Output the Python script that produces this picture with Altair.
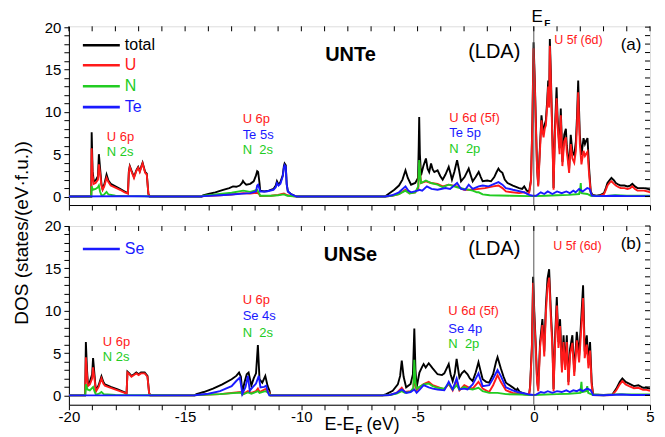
import altair as alt
import pandas as pd

FONT = "Liberation Sans"
C_TOTAL = "#000000"
C_U = "#ff1a1a"
C_N = "#22cc22"
C_X = "#1a1aff"

# ---------------- UNTe (panel a) : (E - EF [eV], DOS) ----------------
te_total = [(-20, 0), (-19.04, 0), (-19.02, 7.6), (-18.98, 3.0), (-18.93, 1.8), (-18.85, 1.9), (-18.75, 2.4),
            (-18.71, 5.0), (-18.66, 3.4), (-18.6, 1.5), (-18.55, 0.9), (-18.48, 1.4), (-18.38, 2.6), (-18.3, 1.9),
            (-18.2, 1.5), (-18.0, 1.2), (-17.8, 0.9), (-17.6, 0.6), (-17.46, 0.4), (-17.42, 3.0), (-17.38, 3.6),
            (-17.3, 3.0), (-17.2, 2.3), (-17.1, 3.1), (-17.02, 3.5), (-16.95, 3.0), (-16.88, 3.6), (-16.83, 4.0),
            (-16.77, 3.4), (-16.72, 2.9), (-16.65, 2.7), (-16.58, 0.3), (-16.52, 0),
            (-14.3, 0), (-14.23, 0.15), (-14.0, 0.3), (-13.7, 0.5), (-13.4, 0.75), (-13.1, 1.0), (-12.94, 1.2),
            (-12.8, 1.15), (-12.65, 1.3), (-12.55, 1.6), (-12.51, 1.85), (-12.45, 1.6), (-12.37, 1.4), (-12.2, 1.5),
            (-12.05, 1.8), (-11.95, 2.5), (-11.9, 3.0), (-11.86, 2.9), (-11.8, 1.6), (-11.77, 0.7), (-11.6, 0.6),
            (-11.4, 0.7), (-11.2, 0.9), (-11.1, 1.3), (-11.05, 1.8), (-10.98, 1.4), (-10.9, 1.7), (-10.8, 2.5),
            (-10.75, 3.6), (-10.72, 3.9), (-10.67, 3.7), (-10.63, 1.5), (-10.58, 0.6), (-10.45, 0.3), (-10.3, 0.1),
            (-10.2, 0),
            (-6.4, 0), (-6.21, 0.4), (-6.0, 0.8), (-5.8, 1.3), (-5.65, 2.0), (-5.52, 3.1), (-5.42, 2.2), (-5.28, 1.4),
            (-5.1, 1.6), (-4.98, 2.2), (-4.95, 6.0), (-4.93, 9.4), (-4.9, 5.0), (-4.85, 2.5), (-4.75, 3.6),
            (-4.64, 4.5), (-4.57, 3.3), (-4.5, 2.9), (-4.42, 3.9), (-4.35, 3.2), (-4.28, 2.9), (-4.14, 3.1),
            (-4.02, 2.4), (-3.92, 2.0), (-3.8, 2.6), (-3.66, 3.5), (-3.58, 2.7), (-3.52, 2.0), (-3.42, 2.9),
            (-3.30, 4.3), (-3.22, 3.2), (-3.13, 1.8), (-2.98, 2.3), (-2.80, 3.3), (-2.7, 2.4), (-2.63, 1.8),
            (-2.5, 2.3), (-2.37, 2.9), (-2.28, 2.3), (-2.2, 1.8), (-2.0, 1.9), (-1.84, 1.8), (-1.7, 2.3), (-1.6, 2.9),
            (-1.52, 3.3), (-1.45, 3.0), (-1.35, 2.8), (-1.25, 2.0), (-1.13, 1.6), (-0.9, 1.3), (-0.63, 1.0),
            (-0.5, 0.9), (-0.41, 1.2), (-0.3, 0.7), (-0.2, 0.6),
            (-0.12, 2.0), (-0.06, 9.0), (-0.01, 18.2), (0.04, 14.0), (0.09, 8.8), (0.14, 3.5), (0.19, 1.4),
            (0.25, 5.0), (0.33, 9.6), (0.38, 8.2), (0.42, 7.6), (0.47, 8.5), (0.52, 9.0), (0.58, 11.5), (0.62, 13.7),
            (0.66, 11.0), (0.69, 18.6), (0.73, 15.0), (0.76, 11.6), (0.81, 6.0), (0.85, 1.0), (0.91, 8.0),
            (0.98, 12.9), (1.02, 9.5), (1.05, 8.0), (1.11, 5.7), (1.16, 10.4), (1.2, 7.0), (1.23, 4.1), (1.31, 7.3),
            (1.38, 8.0), (1.42, 6.0), (1.45, 5.3), (1.52, 3.3), (1.59, 7.3), (1.66, 5.3), (1.74, 4.9), (1.81, 6.5),
            (1.86, 9.5), (1.91, 13.7), (1.95, 10.0), (1.98, 7.3), (2.05, 4.9), (2.14, 6.9), (2.2, 6.2), (2.24, 6.5),
            (2.31, 6.9), (2.38, 3.3), (2.45, 0.6), (2.52, 0.2), (2.7, 0.1), (2.88, 0.2), (3.02, 0.4), (3.1, 1.0),
            (3.17, 1.6), (3.28, 2.0), (3.34, 2.2), (3.45, 1.9), (3.53, 1.6), (3.65, 1.4), (3.74, 1.3), (3.9, 1.3),
            (4.03, 1.2), (4.15, 1.3), (4.24, 1.5), (4.35, 1.2), (4.46, 1.0), (4.6, 1.0), (4.74, 1.0), (4.9, 0.9),
            (5.0, 0.8)]

te_u = [(-20, 0), (-19.04, 0), (-19.02, 5.7), (-18.98, 2.5), (-18.93, 1.5), (-18.85, 1.6), (-18.75, 2.0),
        (-18.71, 3.8), (-18.66, 2.8), (-18.6, 1.3), (-18.55, 0.8), (-18.48, 1.2), (-18.38, 2.2), (-18.3, 1.7),
        (-18.2, 1.3), (-18.0, 1.05), (-17.8, 0.8), (-17.6, 0.5), (-17.46, 0.35), (-17.42, 2.9), (-17.38, 3.5),
        (-17.3, 2.9), (-17.2, 2.2), (-17.1, 3.0), (-17.02, 3.4), (-16.95, 2.9), (-16.88, 3.5), (-16.83, 3.9),
        (-16.77, 3.3), (-16.72, 2.8), (-16.65, 2.6), (-16.58, 0.3), (-16.52, 0),
        (-14.3, 0), (-14.2, 0.05), (-13.5, 0.15), (-13.0, 0.25), (-12.5, 0.4), (-12.2, 0.35), (-11.9, 0.45),
        (-11.82, 0.3), (-11.77, 0.05), (-11.3, 0.1), (-11.0, 0.2), (-10.75, 0.35), (-10.6, 0.15), (-10.3, 0.02),
        (-10.2, 0),
        (-6.4, 0), (-6.1, 0.1), (-5.8, 0.3), (-5.52, 0.8), (-5.35, 0.4), (-5.1, 0.5), (-4.97, 1.0), (-4.93, 4.0),
        (-4.88, 2.5), (-4.85, 1.6), (-4.64, 1.8), (-4.42, 1.6), (-4.14, 1.5), (-3.92, 1.2), (-3.66, 1.4),
        (-3.3, 1.2), (-3.0, 0.8), (-2.63, 0.8), (-2.37, 0.9), (-2.1, 1.0), (-1.75, 1.2), (-1.52, 1.3),
        (-1.35, 1.0), (-1.2, 0.6), (-0.63, 0.4), (-0.41, 0.5), (-0.3, 0.35), (-0.2, 0.45),
        (-0.12, 1.8), (-0.06, 8.5), (-0.01, 17.5), (0.04, 13.5), (0.09, 8.3), (0.14, 3.2), (0.19, 1.2),
        (0.25, 4.6), (0.33, 9.0), (0.38, 7.6), (0.42, 7.0), (0.47, 8.0), (0.52, 8.4), (0.58, 11.0), (0.62, 13.0),
        (0.66, 10.5), (0.69, 17.8), (0.73, 14.2), (0.76, 10.8), (0.81, 5.5), (0.85, 0.8), (0.91, 7.4),
        (0.98, 11.6), (1.02, 8.8), (1.05, 7.3), (1.11, 5.0), (1.16, 9.6), (1.2, 6.3), (1.23, 3.6), (1.31, 6.5),
        (1.38, 7.0), (1.42, 5.2), (1.45, 4.6), (1.52, 2.8), (1.59, 6.2), (1.66, 4.5), (1.74, 4.0), (1.81, 5.4),
        (1.86, 8.6), (1.91, 12.3), (1.95, 8.8), (1.98, 6.2), (2.05, 3.8), (2.14, 5.4), (2.2, 4.8), (2.24, 5.0),
        (2.31, 5.3), (2.38, 2.6), (2.45, 0.4), (2.52, 0.1), (2.7, 0.05), (2.88, 0.1), (3.02, 0.3), (3.1, 0.8),
        (3.17, 1.3), (3.28, 1.7), (3.34, 1.8), (3.45, 1.5), (3.53, 1.3), (3.65, 1.1), (3.74, 1.0), (3.9, 1.0),
        (4.03, 0.9), (4.15, 1.0), (4.24, 1.2), (4.35, 0.9), (4.46, 0.7), (4.6, 0.7), (4.74, 0.7), (4.9, 0.6),
        (5.0, 0.5)]

te_n = [(-20, 0), (-19.04, 0), (-19.02, 1.2), (-18.97, 0.8), (-18.85, 0.9), (-18.75, 1.1), (-18.71, 1.3),
        (-18.66, 0.6), (-18.6, 0.15), (-18.5, 0.2), (-18.38, 0.55), (-18.3, 0.25), (-18.0, 0.1), (-17.5, 0.05),
        (-16.6, 0.03), (-16.5, 0),
        (-14.3, 0), (-14.2, 0.1), (-13.5, 0.3), (-13.0, 0.45), (-12.5, 0.7), (-12.2, 0.55), (-11.9, 0.8),
        (-11.82, 0.4), (-11.77, 0.1), (-11.3, 0.1), (-11.0, 0.15), (-10.75, 0.25), (-10.6, 0.1), (-10.2, 0),
        (-6.4, 0), (-6.1, 0.1), (-5.8, 0.3), (-5.52, 0.7), (-5.35, 0.35), (-5.1, 0.5), (-4.97, 1.2), (-4.93, 4.3),
        (-4.88, 2.3), (-4.85, 1.6), (-4.64, 1.9), (-4.42, 1.6), (-4.14, 1.4), (-3.92, 1.1), (-3.66, 1.4),
        (-3.3, 1.1), (-3.0, 0.9), (-2.63, 0.7), (-2.45, 0.5), (-2.37, 0.5), (-2.2, 0.25), (-1.9, 0.15),
        (-1.0, 0.1), (-0.2, 0.05),
        (0.0, 0.05), (0.5, 0.1), (1.0, 0.15), (1.5, 0.2), (1.95, 0.3), (2.0, 1.0), (2.02, 1.6), (2.05, 0.4),
        (2.3, 0.3), (2.45, 0.1), (3.0, 0.05), (3.5, 0.15), (4.0, 0.1), (5.0, 0.1)]

te_te = [(-20, 0), (-17.0, 0.05), (-16.5, 0),
         (-14.3, 0), (-14.2, 0.05), (-13.5, 0.15), (-13.0, 0.25), (-12.5, 0.35), (-12.2, 0.4), (-11.95, 0.6),
         (-11.9, 1.3), (-11.86, 1.4), (-11.8, 0.9), (-11.77, 0.6), (-11.5, 0.6), (-11.2, 0.8), (-11.1, 1.1),
         (-11.05, 1.6), (-10.98, 1.3), (-10.9, 1.5), (-10.8, 2.4), (-10.75, 3.4), (-10.72, 3.7), (-10.67, 3.5),
         (-10.63, 1.4), (-10.58, 0.6), (-10.45, 0.3), (-10.3, 0.1), (-10.2, 0),
         (-6.4, 0), (-6.1, 0.15), (-5.8, 0.5), (-5.52, 1.2), (-5.4, 0.7), (-5.28, 0.5), (-5.0, 0.7), (-4.92, 0.8),
         (-4.8, 0.7), (-4.6, 1.2), (-4.4, 0.9), (-4.14, 0.8), (-3.8, 1.0), (-3.6, 0.9), (-3.3, 1.6), (-3.13, 0.9),
         (-2.95, 0.8), (-2.8, 1.4), (-2.63, 0.9), (-2.37, 1.2), (-2.2, 1.3), (-1.95, 1.2), (-1.7, 1.5),
         (-1.52, 1.7), (-1.35, 1.4), (-1.2, 1.0), (-0.9, 0.8), (-0.4, 0.5), (-0.2, 0.2), (-0.05, 0.1),
         (0.1, 0.1), (0.3, 0.5), (0.45, 0.3), (0.6, 0.6), (0.8, 0.3), (1.0, 0.6), (1.2, 0.4), (1.4, 0.6),
         (1.55, 0.4), (1.7, 0.7), (1.8, 0.5), (1.95, 0.9), (2.1, 0.6), (2.3, 1.0), (2.4, 0.9), (2.5, 0.1),
         (2.7, 0.05), (3.5, 0.1), (4.0, 0.05), (5.0, 0.05)]

# ---------------- UNSe (panel b) ----------------
se_total = [(-20, 0), (-19.3, 0), (-19.27, 6.3), (-19.22, 3.0), (-19.18, 1.3), (-19.1, 1.6), (-19.0, 2.5),
            (-18.96, 4.4), (-18.9, 2.5), (-18.84, 0.55), (-18.72, 1.2), (-18.6, 2.25), (-18.52, 1.6),
            (-18.45, 1.3), (-18.2, 1.0), (-17.9, 0.7), (-17.6, 0.35), (-17.52, 0.2), (-17.48, 2.8), (-17.4, 2.6),
            (-17.31, 2.3), (-17.2, 2.5), (-17.1, 2.7), (-17.0, 2.5), (-16.9, 2.7), (-16.74, 2.7), (-16.62, 2.3),
            (-16.55, 0.3), (-16.5, 0),
            (-14.6, 0), (-14.51, 0.15), (-14.2, 0.4), (-13.8, 0.8), (-13.4, 1.3), (-13.0, 1.9), (-12.8, 2.3),
            (-12.68, 2.7), (-12.6, 2.2), (-12.54, 0.35), (-12.45, 1.5), (-12.35, 2.5), (-12.27, 2.7),
            (-12.15, 1.15), (-12.05, 2.0), (-11.95, 2.6), (-11.87, 5.95), (-11.8, 1.9), (-11.68, 1.5),
            (-11.55, 2.3), (-11.45, 1.1), (-11.37, 0.55), (-11.33, 0),
            (-6.5, 0), (-6.35, 0.15), (-6.07, 0.55), (-5.85, 1.3), (-5.75, 2.3), (-5.68, 4.1), (-5.6, 2.2),
            (-5.49, 0.95), (-5.3, 1.35), (-5.2, 2.5), (-5.14, 7.9), (-5.09, 3.0), (-5.04, 0.95), (-4.92, 2.7),
            (-4.8, 3.4), (-4.74, 3.7), (-4.65, 3.3), (-4.52, 3.8), (-4.35, 3.2), (-4.14, 2.5), (-3.95, 2.4),
            (-3.85, 2.6), (-3.66, 3.7), (-3.58, 2.5), (-3.49, 1.7), (-3.4, 2.6), (-3.32, 4.3), (-3.25, 3.0),
            (-3.2, 2.1), (-3.1, 2.6), (-2.99, 2.9), (-2.85, 2.5), (-2.75, 2.0), (-2.63, 1.7), (-2.5, 2.7),
            (-2.38, 3.9), (-2.3, 3.0), (-2.2, 1.9), (-2.05, 1.6), (-1.92, 1.5), (-1.75, 2.5), (-1.62, 4.0),
            (-1.56, 4.5), (-1.42, 3.2), (-1.3, 2.2), (-1.2, 1.5), (-0.91, 0.95), (-0.75, 0.6), (-0.7, 0.8),
            (-0.6, 0.4), (-0.34, 0.15), (-0.2, 0.1),
            (-0.16, 1.1), (-0.08, 6.0), (-0.03, 14.0), (0.02, 10.0), (0.08, 6.3), (0.14, 2.0), (0.19, 0.75),
            (0.27, 6.3), (0.37, 9.0), (0.45, 5.2), (0.52, 10.6), (0.59, 13.8), (0.66, 14.9), (0.73, 10.2),
            (0.8, 6.3), (0.85, 0.75), (0.92, 7.1), (0.99, 11.6), (1.06, 6.3), (1.13, 9.0), (1.21, 3.2), (1.28, 7.1),
            (1.35, 3.5), (1.42, 7.1), (1.49, 1.6), (1.56, 5.5), (1.66, 7.1), (1.74, 2.8), (1.85, 7.5), (1.95, 4.7),
            (2.05, 9.5), (2.12, 13.0), (2.19, 5.2), (2.28, 7.1), (2.35, 3.9), (2.42, 6.3), (2.49, 1.6),
            (2.55, 0.1), (3.0, 0.05), (3.38, 0.1), (3.55, 0.8), (3.7, 1.6), (3.81, 2.0), (3.95, 1.6), (4.1, 1.4),
            (4.31, 1.1), (4.5, 1.2), (4.7, 0.9), (4.85, 0.9), (5.0, 0.8)]

se_u = [(-20, 0), (-19.3, 0), (-19.27, 4.5), (-19.22, 2.4), (-19.18, 1.1), (-19.1, 1.3), (-19.0, 2.0),
        (-18.96, 3.3), (-18.9, 2.0), (-18.84, 0.45), (-18.72, 1.0), (-18.6, 2.0), (-18.52, 1.4), (-18.45, 1.15),
        (-18.2, 0.9), (-17.9, 0.6), (-17.6, 0.3), (-17.52, 0.15), (-17.48, 2.7), (-17.4, 2.5), (-17.31, 2.2),
        (-17.2, 2.4), (-17.1, 2.6), (-17.0, 2.4), (-16.9, 2.6), (-16.74, 2.6), (-16.62, 2.2), (-16.55, 0.3),
        (-16.5, 0),
        (-14.6, 0), (-14.5, 0.05), (-13.5, 0.15), (-12.8, 0.35), (-12.6, 0.4), (-12.54, 0.1), (-12.3, 0.5),
        (-12.15, 0.3), (-11.95, 0.5), (-11.87, 0.8), (-11.8, 0.4), (-11.55, 0.75), (-11.45, 0.5),
        (-11.37, 0.3), (-11.33, 0),
        (-6.5, 0), (-6.2, 0.05), (-5.9, 0.3), (-5.68, 0.9), (-5.55, 0.4), (-5.3, 0.5), (-5.18, 0.8),
        (-5.14, 3.0), (-5.09, 1.2), (-5.04, 0.6), (-4.92, 0.95), (-4.74, 1.35), (-4.52, 1.6), (-4.35, 1.2),
        (-4.14, 1.0), (-3.85, 0.7), (-3.66, 1.35), (-3.49, 0.6), (-3.32, 1.8), (-3.2, 0.6), (-2.99, 1.2),
        (-2.85, 1.0), (-2.63, 0.8), (-2.38, 1.6), (-2.2, 0.8), (-1.92, 0.4), (-1.75, 1.2), (-1.56, 2.4),
        (-1.42, 1.6), (-1.2, 0.6), (-0.91, 0.3), (-0.34, 0.1), (-0.2, 0.2),
        (-0.16, 0.9), (-0.08, 5.5), (-0.03, 13.3), (0.02, 9.3), (0.08, 5.7), (0.14, 1.6), (0.19, 0.5),
        (0.27, 5.7), (0.37, 8.3), (0.45, 4.6), (0.52, 9.8), (0.59, 12.8), (0.66, 13.9), (0.73, 9.4), (0.8, 5.6),
        (0.85, 0.5), (0.92, 6.4), (0.99, 10.6), (1.06, 5.6), (1.13, 8.2), (1.21, 2.7), (1.28, 6.3), (1.35, 3.0),
        (1.42, 6.3), (1.49, 1.2), (1.56, 4.8), (1.66, 6.2), (1.74, 2.3), (1.85, 6.5), (1.95, 3.9), (2.05, 8.2),
        (2.12, 11.5), (2.19, 4.4), (2.28, 6.0), (2.35, 3.2), (2.42, 5.3), (2.49, 1.2), (2.55, 0.05),
        (3.0, 0.02), (3.38, 0.05), (3.55, 0.6), (3.7, 1.3), (3.81, 1.7), (3.95, 1.3), (4.1, 1.1), (4.31, 0.85),
        (4.5, 0.9), (4.7, 0.65), (4.85, 0.65), (5.0, 0.55)]

se_n = [(-20, 0), (-19.3, 0), (-19.27, 1.3), (-19.2, 0.7), (-19.1, 0.6), (-18.96, 1.0), (-18.9, 0.5),
        (-18.84, 0.1), (-18.7, 0.2), (-18.6, 0.4), (-18.5, 0.15), (-18.0, 0.05), (-16.5, 0.02),
        (-14.6, 0), (-14.5, 0.05), (-13.5, 0.15), (-12.8, 0.3), (-12.6, 0.35), (-12.54, 0.1), (-12.3, 0.35),
        (-12.15, 0.2), (-11.87, 0.5), (-11.8, 0.3), (-11.55, 0.5), (-11.4, 0.3), (-11.33, 0),
        (-6.5, 0), (-6.2, 0.05), (-5.9, 0.2), (-5.68, 0.5), (-5.55, 0.3), (-5.3, 0.45), (-5.18, 0.9),
        (-5.14, 4.2), (-5.09, 1.5), (-5.04, 0.8), (-4.92, 1.0), (-4.74, 1.3), (-4.52, 1.4), (-4.35, 1.1),
        (-4.14, 0.9), (-3.85, 0.8), (-3.66, 1.4), (-3.49, 0.7), (-3.32, 1.2), (-3.2, 0.7), (-2.99, 1.0),
        (-2.85, 0.8), (-2.63, 0.7), (-2.38, 0.9), (-2.2, 0.5), (-1.92, 0.3), (-1.56, 0.3), (-1.2, 0.15),
        (-0.5, 0.1), (-0.2, 0.05),
        (0.0, 0.05), (0.5, 0.1), (1.0, 0.15), (1.5, 0.2), (2.0, 0.3), (2.03, 1.1), (2.05, 1.6), (2.08, 0.4),
        (2.25, 0.5), (2.3, 1.1), (2.34, 0.3), (2.5, 0.1), (3.0, 0.02), (3.7, 0.15), (4.0, 0.1), (5.0, 0.1)]

se_se = [(-20, 0), (-16.5, 0),
         (-14.6, 0), (-14.5, 0.05), (-14.0, 0.2), (-13.5, 0.5), (-13.0, 1.1), (-12.8, 1.7), (-12.65, 2.1),
         (-12.58, 1.0), (-12.54, 0.15), (-12.4, 1.0), (-12.3, 2.3), (-12.22, 0.55), (-12.1, 0.95),
         (-11.95, 1.4), (-11.83, 2.3), (-11.76, 0.95), (-11.6, 1.0), (-11.51, 1.15), (-11.44, 0.35),
         (-11.38, 0),
         (-6.5, 0), (-6.2, 0.05), (-5.9, 0.3), (-5.68, 0.7), (-5.49, 0.3), (-5.3, 0.4), (-5.14, 0.7),
         (-5.04, 0.3), (-4.9, 0.7), (-4.74, 1.2), (-4.52, 0.95), (-4.35, 0.8), (-4.14, 0.7), (-3.85, 0.6),
         (-3.66, 1.6), (-3.49, 0.7), (-3.32, 2.0), (-3.2, 0.7), (-2.99, 0.8), (-2.85, 0.7), (-2.63, 1.3),
         (-2.38, 2.6), (-2.2, 1.1), (-1.92, 1.2), (-1.75, 2.0), (-1.56, 3.0), (-1.42, 2.3), (-1.2, 0.95),
         (-0.91, 0.6), (-0.7, 0.4), (-0.34, 0.2), (-0.2, 0.1), (0.0, 0.05),
         (0.1, 0.1), (0.3, 0.4), (0.45, 0.3), (0.6, 0.5), (0.8, 0.3), (1.0, 0.5), (1.2, 0.4), (1.4, 0.6),
         (1.55, 0.4), (1.7, 0.6), (1.85, 0.5), (2.0, 0.7), (2.1, 0.5), (2.3, 0.8), (2.45, 0.6), (2.55, 0.05),
         (3.0, 0.02), (3.8, 0.1), (4.2, 0.05), (5.0, 0.05)]

x_ticks = list(range(-20, 6))
y_ticks = list(range(0, 21))

W, H = 582, 179


def df_of(pts):
    d = pd.DataFrame(pts, columns=["E", "DOS"])
    d["i"] = range(len(d))
    return d


def text(label, x, y, size, color="#000000", weight="normal", align="left", angle=0):
    return alt.Chart(pd.DataFrame({"t": [label]})).mark_text(
        font=FONT, fontSize=size, color=color, fontWeight=weight, align=align,
        baseline="middle", angle=angle).encode(x=alt.value(x), y=alt.value(y), text="t:N")


AX = dict(grid=False, labelOverlap=False, labelFont=FONT, labelFontSize=15,
          labelColor="#000000", tickColor="#000000", domainColor="#000000", tickSize=5,
          tickWidth=1, domainWidth=1, title=None,
          labelExpr="datum.value % 5 == 0 ? toString(datum.value) : ''")


def panel(series, ydom, bottom, annotations):
    xs = alt.Scale(domain=[-20, 5], nice=False, zero=False)
    ys = alt.Scale(domain=ydom, nice=False, zero=False)
    xaxis = alt.Axis(values=x_ticks, labels=bottom, labelFlush=False, labelPadding=0, **AX)
    yaxis = alt.Axis(values=y_ticks, labelPadding=3, **AX)
    X = alt.X("E:Q", scale=xs, axis=xaxis)
    Y = alt.Y("DOS:Q", scale=ys, axis=yaxis)
    layers = []
    for pts, color in series:
        layers.append(alt.Chart(df_of(pts)).mark_line(color=color, strokeWidth=1.9, clip=True).encode(
            x=X, y=Y, order="i:Q"))
    # Fermi level
    layers.append(alt.Chart(pd.DataFrame({"E": [0]})).mark_rule(color="#555555", strokeWidth=1).encode(
        x=X, y=alt.value(0), y2=alt.value(H)))
    # inward ticks on top and right frame
    layers.append(alt.Chart(pd.DataFrame({"E": x_ticks})).mark_rule(color="#000000", strokeWidth=1).encode(
        x=X, y=alt.value(0), y2=alt.value(5)))
    layers.append(alt.Chart(pd.DataFrame({"DOS": y_ticks})).mark_rule(color="#000000", strokeWidth=1).encode(
        y=Y, x=alt.value(W - 5), x2=alt.value(W)))
    layers += annotations
    return alt.layer(*layers).properties(width=W, height=H)


def leg_line(color, y):
    return alt.Chart(pd.DataFrame({"c": [color]})).mark_rule(color=color, strokeWidth=2.6).encode(
        x=alt.value(14), x2=alt.value(51), y=alt.value(y))


NB = "\u00a0"
top_ann = [
    leg_line(C_TOTAL, 19), leg_line(C_U, 39), leg_line(C_N, 60), leg_line(C_X, 81),
    text("total", 56, 19, 16, C_TOTAL), text("U", 56, 39, 16, C_U), text("N", 56, 60, 16, C_N),
    text("Te", 56, 81, 16, C_X),
    text("UNTe", 282, 29, 20, weight="bold", align="center"),
    text("(LDA)", 426, 26, 20, align="center"),
    text("(a)", 563, 19, 17, align="center"),
    text("U 5f (6d)", 486, 14, 12.5, C_U),
    text("U 6p", 38, 111, 13, C_U), text("N 2s", 38, 126, 13, C_N),
    text("U 6p", 174, 93, 13, C_U), text("Te 5s", 174, 109, 13, C_X), text("N" + NB + " 2s", 174, 124, 13, C_N),
    text("U 6d (5f)", 381, 92, 13, C_U), text("Te 5p", 381, 107, 13, C_X),
    text("N" + NB + " 2p", 381, 123, 13, C_N),
    text("E", 469, -9, 17, align="center"), text("F", 479, -3, 10, weight="bold", align="center"),
    text("DOS (states/(eV\u00b7f.u.))", -47, 207, 19, angle=270, align="center"),
]
bot_ann = [
    leg_line(C_X, 23), text("Se", 56, 23, 16, C_X),
    text("UNSe", 282, 29, 20, weight="bold", align="center"),
    text("(LDA)", 426, 23, 20, align="center"),
    text("(b)", 563, 18, 17, align="center"),
    text("U 5f (6d)", 485, 20, 12.5, C_U),
    text("U 6p", 34, 116, 13, C_U), text("N 2s", 34, 131, 13, C_N),
    text("U 6p", 174, 74, 13, C_U), text("Se 4s", 174, 90, 13, C_X), text("N" + NB + " 2s", 174, 107, 13, C_N),
    text("U 6d (5f)", 380, 85, 13, C_U), text("Se 4p", 380, 103, 13, C_X),
    text("N" + NB + " 2p", 380, 118, 13, C_N),
    text("E-E", 256, 199, 18), text("F", 287, 205, 11, weight="bold"), text("(eV)", 298, 199, 17.5),
]

top = panel([(te_total, C_TOTAL), (te_u, C_U), (te_n, C_N), (te_te, C_X)], [-1, 20.1], False, top_ann)
bot = panel([(se_total, C_TOTAL), (se_u, C_U), (se_n, C_N), (se_se, C_X)], [-1.1, 20], True, bot_ann)

chart = alt.vconcat(top, bot, spacing=21, bounds="flush").properties(
    padding={"left": 12, "top": 7, "right": 10, "bottom": 4}
).configure_view(stroke="#000000", strokeWidth=1).configure(background="#ffffff")

chart.save("out.html", embed_options={"renderer": "svg", "actions": False})
